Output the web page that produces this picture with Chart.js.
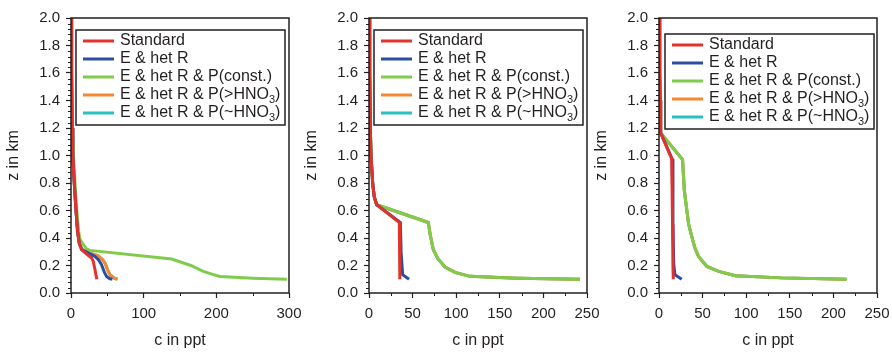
<!DOCTYPE html>
<html lang="en">
<head>
<meta charset="UTF-8">
<title>Concentration profiles</title>
<script src="https://cdn.jsdelivr.net/npm/chart.js"></script>
<style>
  body { margin: 0; background: #fff; }
  .panel { position: absolute; top: 0; }
</style>
</head>
<body>
<canvas id="c1" class="panel" width="301" height="352" style="left:0px"></canvas>
<canvas id="c2" class="panel" width="301" height="352" style="left:298px"></canvas>
<canvas id="c3" class="panel" width="301" height="352" style="left:588px"></canvas>
<script>
const seriesLabels = ['Standard', 'E & het R', 'E & het R & P(const.)', 'E & het R & P(>HNO₃)', 'E & het R & P(~HNO₃)'];
const seriesColors = ['#e2322b', '#2b4ea2', '#7fcb4a', '#f7882f', '#2bbfc4'];

// panel 1
const zStd1 = [2.0, 1.6, 1.2, 1.0, 0.8, 0.6, 0.45, 0.36, 0.315, 0.285, 0.255, 0.23, 0.17, 0.10];
const cStd1 = [0.3, 0.8, 1.5, 2.5, 4.5, 6.9, 9, 11.5, 14.5, 21, 28.4, 30.7, 33, 35.5];
const zHet1 = [2.0, 1.6, 1.2, 1.0, 0.8, 0.6, 0.45, 0.36, 0.315, 0.29, 0.266, 0.24, 0.206, 0.15, 0.12, 0.105, 0.10];
const cHet1 = [0.3, 0.8, 1.5, 2.5, 4.5, 6.9, 9, 11.5, 15, 24, 33, 38, 42, 46, 49, 53, 57];
const zConst1 = [2.0, 1.6, 1.2, 1.0, 0.8, 0.6, 0.45, 0.388, 0.32, 0.31, 0.247, 0.2, 0.157, 0.135, 0.12, 0.108, 0.10];
const cConst1 = [0.5, 1, 2, 3.5, 5.5, 8, 10.5, 12.4, 21.6, 26, 138.5, 165, 182, 195, 205, 250, 297];
const zGt1 = [2.0, 1.6, 1.2, 1.0, 0.8, 0.6, 0.45, 0.36, 0.315, 0.29, 0.27, 0.245, 0.218, 0.16, 0.133, 0.11, 0.10];
const cGt1 = [0.3, 0.8, 1.5, 2.5, 4.5, 6.9, 9, 11.5, 15, 26, 37.6, 43, 46.8, 51, 53.7, 59, 64];

// panel 2
const zStd2 = [2.0, 1.6, 1.2, 1.0, 0.8, 0.7, 0.642, 0.513, 0.3, 0.10];
const cStd2 = [0.3, 0.8, 1.5, 2.3, 4.2, 6, 8.8, 34.8, 35.2, 35.5];
const zHet2 = [2.0, 1.6, 1.2, 1.0, 0.8, 0.7, 0.642, 0.513, 0.3, 0.133, 0.10];
const cHet2 = [0.3, 0.8, 1.5, 2.3, 4.2, 6, 8.8, 36, 36.8, 38.6, 45.9];
const zConst2 = [2.0, 1.6, 1.2, 1.0, 0.8, 0.7, 0.642, 0.513, 0.424, 0.315, 0.25, 0.189, 0.15, 0.121, 0.108, 0.10];
const cConst2 = [0.3, 0.8, 1.5, 2.3, 4.2, 6, 8.8, 68, 70.2, 73.8, 79, 87.2, 98.6, 115.8, 170, 242];

// panel 3
const zStd3 = [2.0, 1.6, 1.4, 1.164, 0.975, 0.5, 0.2, 0.10];
const cStd3 = [0.3, 0.8, 1.2, 1.9, 14.6, 15.5, 16, 16.4];
const zHet3 = [2.0, 1.6, 1.4, 1.164, 0.975, 0.5, 0.2, 0.133, 0.10];
const cHet3 = [0.3, 0.8, 1.2, 1.9, 15, 16, 17, 18.3, 26];
const zConst3 = [2.0, 1.6, 1.4, 1.164, 0.97, 0.75, 0.606, 0.5, 0.41, 0.33, 0.266, 0.193, 0.157, 0.126, 0.11, 0.10];
const cConst3 = [0.3, 0.8, 1.2, 1.9, 27, 29, 31.8, 34, 37.6, 41, 45.3, 54.9, 68.5, 87.6, 140, 215];

const yTicks = [0, 0.2, 0.4, 0.6, 0.8, 1.0, 1.2, 1.4, 1.6, 1.8, 2.0];

const ink = '#231f20';
const fam = '"Liberation Sans", Arial, Helvetica, sans-serif';

function drawLabel(ctx, text, x, y) {
  let cx = x;
  for (const part of text.split(/(₃)/)) {
    if (!part) continue;
    if (part === '₃') {
      ctx.font = '11px ' + fam;
      ctx.fillText('3', cx, y + 5);
      cx += ctx.measureText('3').width;
    } else {
      ctx.font = '16px ' + fam;
      ctx.fillText(part, cx, y);
      cx += ctx.measureText(part).width;
    }
  }
}

const framePlugin = {
  id: 'frame',
  afterDraw(chart, args, opts) {
    const { ctx, chartArea: a, scales } = chart;
    const xs = scales.x, ys = scales.y;
    ctx.save();
    // minor ticks
    ctx.strokeStyle = ink;
    ctx.lineWidth = 1;
    ctx.beginPath();
    for (let k = 0; k <= 50; k++) {
      if (k % 5 === 0) continue;
      const py = Math.round(ys.getPixelForValue(k * 0.04)) + 0.5;
      ctx.moveTo(a.left - 3, py);
      ctx.lineTo(a.left, py);
    }
    for (let v = 0; v <= xs.max; v += opts.xMinor) {
      if (v % opts.xStep === 0) continue;
      const px = Math.round(xs.getPixelForValue(v)) + 0.5;
      ctx.moveTo(px, a.bottom);
      ctx.lineTo(px, a.bottom + 3);
    }
    ctx.stroke();
    // box
    ctx.lineWidth = 1.5;
    ctx.strokeRect(a.left, a.top, a.right - a.left, a.bottom - a.top);
    // legend
    const x0 = a.left + opts.legendDx, y0 = a.top + opts.legendDy;
    ctx.fillStyle = '#fff';
    ctx.fillRect(x0, y0, 209, 95);
    ctx.strokeRect(x0, y0, 209, 95);
    ctx.textBaseline = 'middle';
    ctx.textAlign = 'left';
    chart.data.datasets.forEach((ds, i) => {
      const yy = y0 + 11 + i * 18;
      ctx.strokeStyle = ds.borderColor;
      ctx.lineWidth = 3;
      ctx.beginPath();
      ctx.moveTo(x0 + 7, yy);
      ctx.lineTo(x0 + 38, yy);
      ctx.stroke();
      ctx.fillStyle = ink;
      drawLabel(ctx, ds.label, x0 + 44, yy);
    });
    ctx.restore();
  }
};

function makeChart(id, xMax, xStep, xMinor, legendDx, legendDy, series) {
  const datasets = series.map((s, i) => ({
    label: seriesLabels[i],
    data: s.c.map((c, k) => ({ x: c, y: s.z[k] })),
    borderColor: seriesColors[i],
    backgroundColor: seriesColors[i],
    borderWidth: 3,
    pointRadius: 0,
    showLine: true,
    fill: false,
    tension: 0
  }));
  return new Chart(document.getElementById(id), {
    type: 'scatter',
    data: { datasets },
    options: {
      responsive: false,
      animation: false,
      layout: { padding: { top: 18, right: 12, left: 0, bottom: 0 } },
      plugins: {
        legend: { display: false },
        tooltip: { enabled: false },
        frame: { xMinor, xStep, legendDx, legendDy }
      },
      scales: {
        x: {
          type: 'linear', min: 0, max: xMax,
          ticks: { stepSize: xStep, color: ink, font: { family: fam, size: 15 }, padding: 7, maxRotation: 0 },
          grid: { display: true, drawOnChartArea: false, drawTicks: true, tickLength: 5, color: ink, tickWidth: 1.2 },
          border: { display: false },
          title: { display: true, text: 'c in ppt', color: ink, font: { family: fam, size: 16 }, padding: { top: 0, bottom: 2 } },
          afterFit: s => { s.height = 59; s.paddingLeft = 0; s.paddingRight = 0; }
        },
        y: {
          type: 'linear', min: 0, max: 2,
          afterBuildTicks: s => { s.ticks = yTicks.map(v => ({ value: v })); },
          ticks: { color: ink, font: { family: fam, size: 15 }, padding: 6, callback: v => v.toFixed(1) },
          grid: { display: true, drawOnChartArea: false, drawTicks: true, tickLength: 5, color: ink, tickWidth: 1.2 },
          border: { display: false },
          title: { display: true, text: 'z in km', color: ink, font: { family: fam, size: 16 }, padding: { top: 4, bottom: 0 } },
          afterFit: s => { s.width = 71; s.paddingTop = 0; s.paddingBottom = 0; }
        }
      }
    },
    plugins: [framePlugin]
  });
}

makeChart('c1', 300, 100, 50, 5, 12, [
  { c: cStd1, z: zStd1 },
  { c: cHet1, z: zHet1 },
  { c: cConst1, z: zConst1 },
  { c: cGt1, z: zGt1 },
  { c: cGt1, z: zGt1 }
]);
makeChart('c2', 250, 50, 25, 5, 12, [
  { c: cStd2, z: zStd2 },
  { c: cHet2, z: zHet2 },
  { c: cConst2, z: zConst2 },
  { c: cConst2, z: zConst2 },
  { c: cConst2, z: zConst2 }
]);
makeChart('c3', 250, 50, 25, 6, 16, [
  { c: cStd3, z: zStd3 },
  { c: cHet3, z: zHet3 },
  { c: cConst3, z: zConst3 },
  { c: cConst3, z: zConst3 },
  { c: cConst3, z: zConst3 }
]);
</script>
</body>
</html>
